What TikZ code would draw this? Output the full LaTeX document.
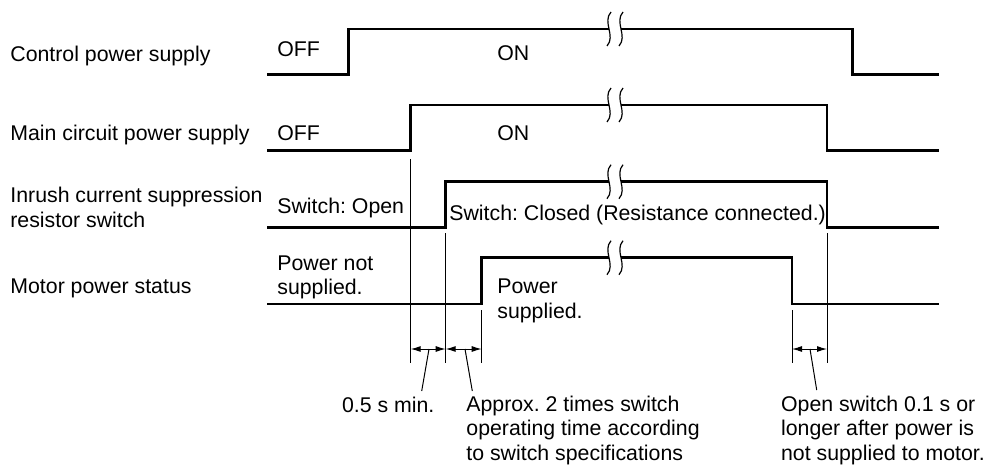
\documentclass[tikz,border=0pt]{standalone}
\usepackage{fontspec}
\setmainfont{Liberation Sans}
\usetikzlibrary{arrows.meta,positioning}
\frenchspacing

\begin{document}
\begin{tikzpicture}[x=0.5pt,y=-0.5pt,
    sig/.style={line width=1.3pt},
    guide/.style={line width=0.5pt},
    dimarrow/.style={line width=0.5pt,{Latex[length=5pt,width=3pt]}-{Latex[length=5pt,width=3pt]}},
    lbl/.style={anchor=base west,inner sep=0pt,font=\fontsize{10.65}{12.25}\selectfont,align=left}]
  \useasboundingbox (0,0) rectangle (984,466);
  \def\xa{609}   % break marks
  \def\xb{621}
  \def\dy{349}   % height of the time arrows
  % (multi-line labels sit on the baseline of their last line)

  % Signal names
  \node[lbl] (ctrl) at (10,61) {Control power supply};
  \node[lbl] (main) at (10,140) {Main circuit power supply};
  \node[lbl] (inrush) at (10,227) {Inrush current suppression\\resistor switch};
  \node[lbl] (motor) at (10,293) {Motor power status};

  % Control power supply
  \draw[sig] (267,74.3) -- (348.3,74.3) -- (348.3,29) -- (\xa,29);
  \draw[sig] (\xb,29) -- (852.7,29) -- (852.7,74.3) -- (939,74.3);
  \node[lbl] (ctrloff) at (277,56) {OFF};
  \node[lbl] (ctrlon) at (497,60) {ON};

  % Main circuit power supply
  \draw[sig] (267,150.7) -- (410.7,150.7) -- (410.7,105) -- (\xa,105);
  \draw[sig] (\xb,105) -- (827,105) -- (827,150.7) -- (939,150.7);
  \node[lbl] (mainoff) at (277,140) {OFF};
  \node[lbl] (mainon) at (497,140) {ON};

  % Inrush current suppression resistor switch
  \draw[sig] (267,227.3) -- (445.7,227.3) -- (445.7,181.7) -- (\xa,181.7);
  \draw[sig] (\xb,181.7) -- (827,181.7) -- (827,227.3) -- (939,227.3);
  \node[lbl] (swopen) at (277,213.5) {Switch: Open};
  \node[lbl] (swclosed) at (449,220) {Switch: Closed (Resistance connected.)};

  % Motor power status
  \draw[sig] (267,304) -- (481.7,304) -- (481.7,257.7) -- (\xa,257.7);
  \draw[sig] (\xb,257.7) -- (792,257.7) -- (792,304) -- (939,304);
  \node[lbl] (pwroff) at (277,294.5) {Power not\\supplied.};
  \node[lbl] (pwron) at (497,318) {Power\\supplied.};

  % Break marks
  \foreach \y in {29,105,181.7,257.7}
    \foreach \x in {\xa,\xb}
      \draw[line width=0.6pt] (\x+2,\y-17) .. controls (\x-7,\y-7) and (\x+7,\y+7) .. (\x-2,\y+17);

  % Timing guides
  \coordinate (ta) at (410.7,363);
  \coordinate (tb) at (445.7,363);
  \coordinate (tc) at (481.7,363);
  \coordinate (td) at (792,363);
  \coordinate (te) at (827,363);
  \draw[guide] (410.7,159) -- (ta);
  \draw[guide] (445.7,233) -- (tb);
  \draw[guide] (481.7,310) -- (tc);
  \draw[guide] (792,310) -- (td);
  \draw[guide] (827,233) -- (te);

  \draw[dimarrow] (ta |- 0,\dy) -- (tb |- 0,\dy);
  \draw[dimarrow] (tb |- 0,\dy) -- (tc |- 0,\dy);
  \draw[dimarrow] (td |- 0,\dy) -- (te |- 0,\dy);

  % Notes
  \node[lbl] (note1) at (341.7,412) {0.5 s min.};
  \node[lbl] (note2) at (466,460) {Approx. 2 times switch\\operating time according\\to switch specifications};
  \node[lbl] (note3) at (780.7,460) {Open switch 0.1 s or\\longer after power is\\not supplied to motor.};
  \draw[guide] (429,\dy) -- (421.7,391);
  \draw[guide] (465,\dy) -- (472.3,391);
  \draw[guide] (810,\dy) -- (816.7,390);
\end{tikzpicture}
\end{document}
